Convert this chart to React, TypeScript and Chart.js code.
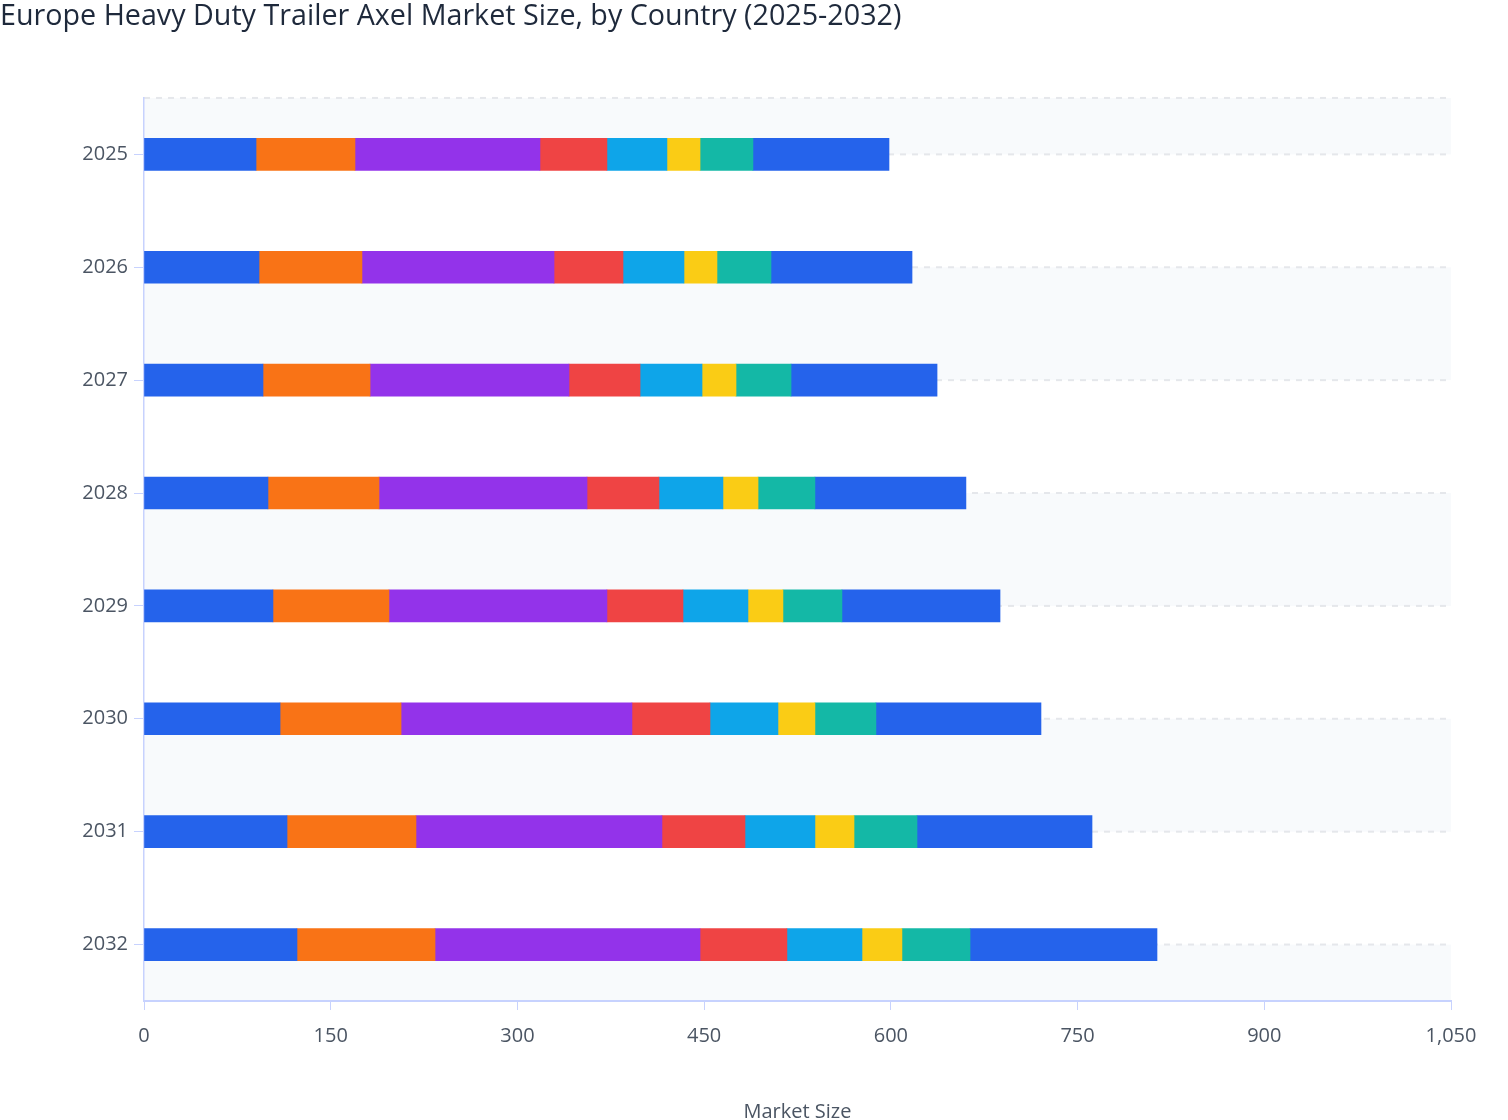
import { useEffect, useRef } from 'react';
import { Chart, registerables } from 'chart.js';

Chart.register(...registerables);

const years = ['2025', '2026', '2027', '2028', '2029', '2030', '2031', '2032'];

const germany = [90.0, 92.4, 95.6, 99.6, 103.6, 109.3, 114.9, 122.9];
const france = [79.5, 82.7, 86.0, 89.2, 93.2, 97.2, 103.6, 110.9];
const uk = [148.6, 154.3, 159.8, 167.1, 175.1, 185.5, 197.6, 212.9];
const italy = [53.8, 55.4, 57.1, 57.8, 61.1, 62.7, 66.7, 69.8];
const spain = [48.2, 49.0, 49.8, 51.4, 52.2, 54.6, 56.2, 60.3];
const netherlands = [26.6, 26.5, 27.3, 28.2, 28.1, 29.7, 31.4, 32.1];
const poland = [42.5, 43.4, 44.2, 45.7, 47.4, 49.0, 50.6, 54.7];
const restOfEurope = [109.3, 113.3, 117.3, 121.3, 127.0, 132.6, 140.6, 150.2];

const xTicks = { min: 0, max: 1050, step: 150 };

const bandsPlugin = {
  id: 'bands',
  beforeDraw(chart: any) {
    const { ctx, chartArea } = chart;
    const y = chart.scales.y;
    const lines = [chartArea.top];
    years.forEach((_, i) => lines.push(y.getPixelForValue(i)));
    lines.push(chartArea.bottom);
    ctx.save();
    ctx.fillStyle = '#f8fafc';
    for (let k = 0; k < lines.length - 1; k += 2) {
      ctx.fillRect(chartArea.left, lines[k], chartArea.right - chartArea.left, lines[k + 1] - lines[k]);
    }
    ctx.strokeStyle = '#e5e7eb';
    ctx.lineWidth = 2;
    ctx.setLineDash([6, 6]);
    for (let k = 0; k < lines.length - 1; k++) {
      ctx.beginPath();
      ctx.moveTo(chartArea.left, lines[k]);
      ctx.lineTo(chartArea.right, lines[k]);
      ctx.stroke();
    }
    ctx.restore();
  },
};

const App = () => {
  const chartRef = useRef<HTMLCanvasElement | null>(null);

  useEffect(() => {
    if (!chartRef.current) return;
    const ctx = chartRef.current.getContext('2d');
    if (!ctx) return;

    const series = [
      { label: 'Germany', data: germany, color: '#2563eb' },
      { label: 'France', data: france, color: '#f97316' },
      { label: 'UK', data: uk, color: '#9333ea' },
      { label: 'Italy', data: italy, color: '#ef4444' },
      { label: 'Spain', data: spain, color: '#0ea5e9' },
      { label: 'Netherlands', data: netherlands, color: '#facc15' },
      { label: 'Poland', data: poland, color: '#14b8a6' },
      { label: 'Rest of Europe', data: restOfEurope, color: '#2563eb' },
    ];

    const chart = new Chart(ctx, {
      type: 'bar',
      data: {
        labels: years,
        datasets: series.map((s) => ({
          label: s.label,
          data: s.data,
          backgroundColor: s.color,
          borderWidth: 0,
          barThickness: 32,
        })),
      },
      options: {
        indexAxis: 'y',
        animation: false,
        responsive: true,
        maintainAspectRatio: false,
        locale: 'en-US',
        layout: { padding: { left: 0, right: 57, top: 0, bottom: 0 } },
        plugins: {
          legend: { display: false },
          tooltip: { enabled: false },
          title: {
            display: true,
            text: 'Europe Heavy Duty Trailer Axel Market Size, by Country (2025-2032)',
            align: 'start',
            color: '#1e293b',
            font: { family: 'Open Sans', size: 28.7, weight: 500 },
            padding: { top: 0, bottom: 63.5 },
          },
        },
        scales: {
          x: {
            stacked: true,
            min: xTicks.min,
            max: xTicks.max,
            afterFit: (scale: any) => {
              scale.height = 126;
            },
            ticks: {
              stepSize: xTicks.step,
              color: '#4b5563',
              font: { family: 'Open Sans', size: 20 },
              padding: 14,
            },
            grid: { drawOnChartArea: false, drawTicks: true, tickLength: 9, color: '#c7d2fe' },
            border: { display: true, color: '#c7d2fe', width: 2 },
            title: {
              display: true,
              text: 'Market Size',
              color: '#4b5563',
              font: { family: 'Open Sans', size: 20 },
              padding: { top: 0, bottom: 3 },
            },
          },
          y: {
            stacked: true,
            afterFit: (scale: any) => {
              scale.width = 144;
            },
            ticks: {
              color: '#4b5563',
              font: { family: 'Open Sans', size: 20 },
              padding: 6,
            },
            grid: { offset: false, drawOnChartArea: false, drawTicks: true, tickLength: 10, color: '#c7d2fe' },
            border: { display: true, color: '#c7d2fe', width: 1.5 },
          },
        },
      },
      plugins: [bandsPlugin],
    });

    return () => {
      chart.destroy();
    };
  }, []);

  return (
    <div style={{ position: 'absolute', left: 0, top: 0, width: 1508, height: 1127 }}>
      <canvas ref={chartRef}></canvas>
    </div>
  );
};

export default App;
